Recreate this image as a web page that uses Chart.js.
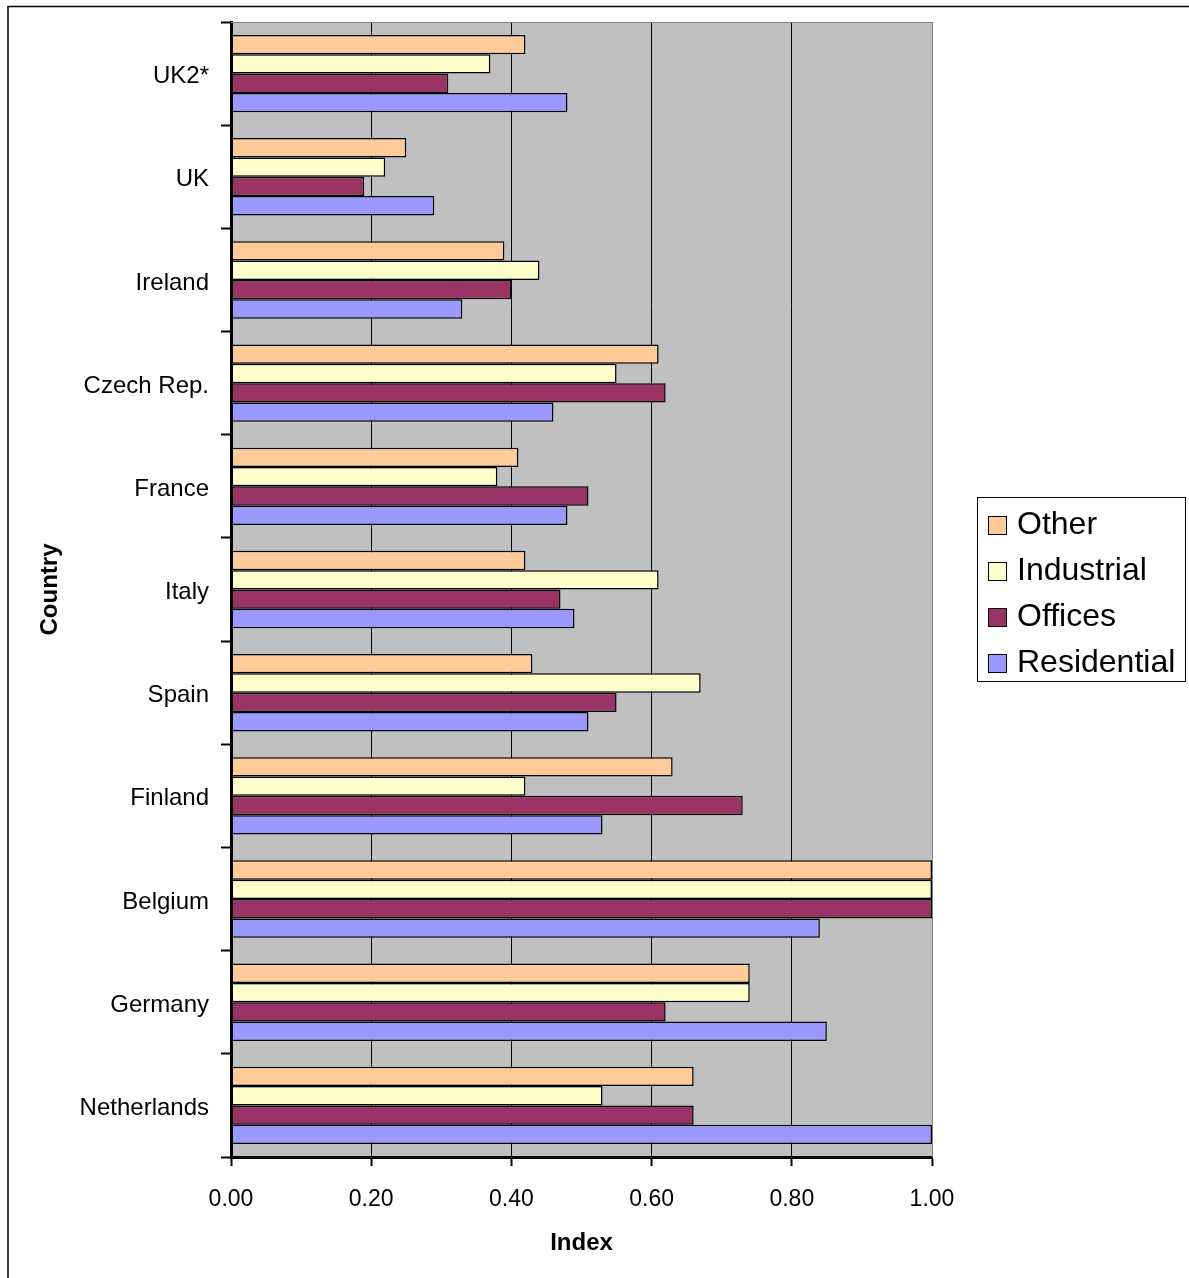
<!DOCTYPE html>
<html>
<head>
<meta charset="utf-8">
<script src="https://cdn.jsdelivr.net/npm/chart.js@4/dist/chart.umd.min.js"></script>
<style>
  html,body{margin:0;padding:0;background:#fff;}
  canvas{display:block;}
</style>
</head>
<body>
<canvas id="chart" width="1189" height="1278"></canvas>
<script>
// ---------- DATA ----------
const countries = ['UK2*','UK','Ireland','Czech Rep.','France','Italy','Spain','Finland','Belgium','Germany','Netherlands'];
const other       = [0.42,0.25,0.39,0.61,0.41,0.42,0.43,0.63,1.00,0.74,0.66];
const industrial  = [0.37,0.22,0.44,0.55,0.38,0.61,0.67,0.42,1.00,0.74,0.53];
const offices     = [0.31,0.19,0.40,0.62,0.51,0.47,0.55,0.73,1.00,0.62,0.66];
const residential = [0.48,0.29,0.33,0.46,0.48,0.49,0.51,0.53,0.84,0.85,1.00];
const seriesNames = ['Other','Industrial','Offices','Residential'];
const xMin = 0, xMax = 1, xStep = 0.2;

const FONT = '"Liberation Sans", Arial, sans-serif';
const colors = ['#FFCC99','#FFFFCC','#993366','#9999FF'];
const seriesData = [other, industrial, offices, residential];

// ---------- PLUGINS ----------
const frame = {
  id:'frame',
  beforeDraw(chart){
    const {ctx, chartArea:a} = chart;
    ctx.save();
    ctx.fillStyle = '#C0C0C0';
    ctx.fillRect(a.left, a.top, a.right-a.left, a.bottom-a.top);
    // outer chart border (top + left only visible)
    ctx.strokeStyle = '#000'; ctx.lineWidth = 1.5;
    ctx.beginPath();
    ctx.moveTo(8, chart.height); ctx.lineTo(8, 6.5); ctx.lineTo(chart.width, 6.5);
    ctx.stroke();
    ctx.restore();
  },
  beforeDatasetsDraw(chart){
    const {ctx, chartArea:a} = chart;
    ctx.save();
    ctx.strokeStyle = '#808080'; ctx.lineWidth = 1;
    ctx.beginPath();
    ctx.moveTo(a.left, a.top+0.5); ctx.lineTo(a.right+0.5, a.top+0.5); ctx.lineTo(a.right+0.5, a.bottom);
    ctx.stroke();
    ctx.restore();
  }
};

const boxLegend = {
  id:'boxLegend',
  afterDraw(chart){
    const {ctx} = chart;
    const x = 977, y = 497, w = 208, h = 184;
    ctx.save();
    ctx.fillStyle = '#fff';
    ctx.fillRect(x, y, w, h);
    ctx.strokeStyle = '#000'; ctx.lineWidth = 1;
    ctx.strokeRect(x+0.5, y+0.5, w, h);
    ctx.font = '32px ' + FONT;
    ctx.textBaseline = 'middle';
    chart.data.datasets.forEach((ds, i) => {
      const cy = 525 + i*46;
      ctx.fillStyle = ds.backgroundColor;
      ctx.fillRect(988, cy-9, 18, 18);
      ctx.strokeRect(988.5, cy-8.5, 18, 18);
      ctx.fillStyle = '#000';
      ctx.fillText(ds.label, 1017, cy);
    });
    ctx.restore();
  }
};

// ---------- CHART ----------
new Chart(document.getElementById('chart').getContext('2d'), {
  type:'bar',
  data:{
    labels:countries,
    datasets:seriesNames.map((name, i) => ({
      label:name,
      data:seriesData[i],
      backgroundColor:colors[i],
      borderColor:'#000',
      borderWidth:1.5,
      borderSkipped:false,
      barPercentage:1,
      categoryPercentage:0.75
    }))
  },
  options:{
    indexAxis:'y',
    responsive:false,
    animation:false,
    layout:{padding:{left:0, right:257, top:22, bottom:0}},
    plugins:{legend:{display:false}, tooltip:{enabled:false}},
    scales:{
      x:{
        min:xMin, max:xMax,
        afterFit(s){ s.height = 121; },
        ticks:{stepSize:xStep, color:'#000', padding:20, font:{family:FONT, size:23},
               callback:v => v.toFixed(2)},
        grid:{color:c => (c.tick && c.tick.value === 1) ? '#808080' : '#000', lineWidth:1,
              tickLength:9, tickWidth:2, tickColor:'#000'},
        border:{color:'#000', width:3},
        title:{display:true, text:'Index', color:'#000', padding:{top:0, bottom:20},
               font:{family:FONT, size:24, weight:'bold'}}
      },
      y:{
        afterFit(s){ s.width = 231; s.paddingTop = 0; s.paddingBottom = 0; },
        ticks:{color:'#000', padding:12, labelOffset:3, font:{family:FONT, size:24}},
        grid:{drawOnChartArea:false, tickLength:10, tickWidth:2, tickColor:'#000'},
        border:{color:'#000', width:3},
        title:{display:true, text:'Country', color:'#000', padding:{top:36, bottom:0},
               font:{family:FONT, size:24, weight:'bold'}}
      }
    }
  },
  plugins:[frame, boxLegend]
});
</script>
</body>
</html>
